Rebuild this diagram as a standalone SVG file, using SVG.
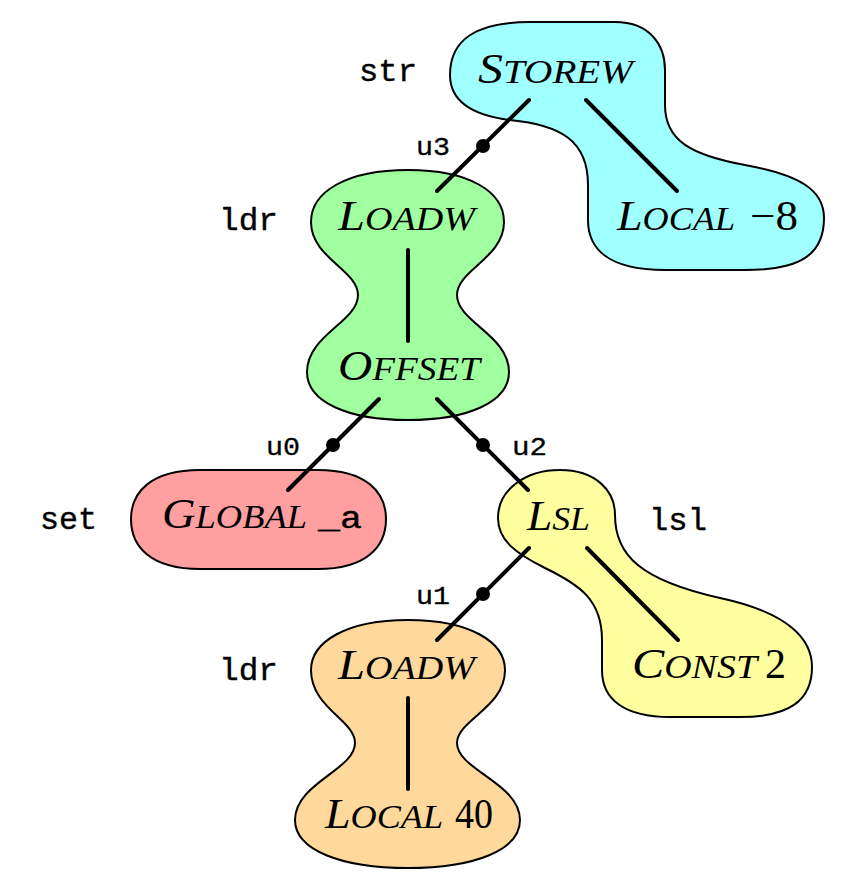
<svg xmlns="http://www.w3.org/2000/svg" width="846" height="890" viewBox="0 0 846 890">
<style>
.blob{stroke:#000;stroke-width:2;stroke-linejoin:round}
.sc{font-family:"Liberation Serif",serif;font-style:italic;font-size:42px;fill:#000}
.scs{font-size:33px}
.num{font-family:"Liberation Serif",serif;font-size:42px;fill:#000}
.tt{font-family:"Liberation Mono",monospace;font-size:31px;fill:#000;stroke:#000;stroke-width:0.4}
.u{font-family:"Liberation Mono",monospace;font-size:25px;fill:#000;stroke:#000;stroke-width:0.3}
.edge{stroke:#000;stroke-width:4;stroke-linecap:round;fill:none}
</style>
<g id="blob-str">
<path class="blob" fill="#a0ffff" d="M 450 75 C 450 40, 475 22, 530 22 L 615 22 C 650 22, 665 45, 665 70 L 665 105 C 665 140, 690 155, 745 165 C 800 175, 824 190, 824 218 C 824 255, 800 270, 745 270 L 665 270 C 610 270, 588 250, 588 220 L 588 185 C 588 140, 560 125, 510 120 C 470 115, 450 100, 450 75 Z"/>
</g>
<g id="blob-ldr1">
<path class="blob" fill="#a0ff9f" d="M 408 170 C 470 170, 504 192, 504 222 C 504 258, 457 270, 457 295 C 457 322, 509 335, 509 372 C 509 402, 468 420, 408 420 C 348 420, 307 402, 307 372 C 307 335, 358 322, 358 295 C 358 270, 311 258, 311 222 C 311 192, 346 170, 408 170 Z"/>
</g>
<g id="blob-set">
<path class="blob" fill="#ff9f9f" d="M 200 470 L 318 470 C 366 470, 386 492, 386 519 C 386 547, 366 569, 318 569 L 200 569 C 151 569, 131 547, 131 519 C 131 492, 151 470, 200 470 Z"/>
</g>
<g id="blob-lsl">
<path class="blob" fill="#ffff9f" d="M 498 518 C 498 490, 525 470, 560 470 C 595 470, 615 490, 615 515 C 615 555, 640 580, 720 598 C 790 613, 812 640, 812 667 C 812 700, 790 717, 740 717 L 670 717 C 625 717, 602 700, 602 670 L 602 640 C 602 600, 580 585, 545 568 C 515 553, 498 540, 498 518 Z"/>
</g>
<g id="blob-ldr2">
<path class="blob" fill="#ffd89b" d="M 408 620 C 470 620, 505 642, 505 670 C 505 708, 457 720, 457 743 C 457 770, 520 783, 520 820 C 520 850, 475 868, 408 868 C 341 868, 295 850, 295 820 C 295 783, 355 770, 355 743 C 355 720, 311 708, 311 670 C 311 642, 346 620, 408 620 Z"/>
</g>
<g id="connectors">
<line class="edge" x1="529" y1="100" x2="437" y2="191"/>
<circle cx="483" cy="146" r="7"/>
<line class="edge" x1="586" y1="100" x2="677" y2="191"/>
<line class="edge" x1="408" y1="250" x2="408" y2="341"/>
<line class="edge" x1="379" y1="399" x2="288" y2="490"/>
<circle cx="333" cy="445" r="7"/>
<line class="edge" x1="437" y1="399" x2="528" y2="490"/>
<circle cx="483" cy="445" r="7"/>
<line class="edge" x1="529" y1="548" x2="437" y2="640"/>
<circle cx="483" cy="594" r="7"/>
<line class="edge" x1="587" y1="548" x2="678" y2="640"/>
<line class="edge" x1="408" y1="698" x2="408" y2="789"/>
</g>
<g id="n-storew">
<text class="sc" x="478" y="83" textLength="155" lengthAdjust="spacingAndGlyphs">S<tspan class="scs">TOREW</tspan></text>
</g>
<g id="n-local8">
<text class="sc" x="617" y="230" textLength="118" lengthAdjust="spacingAndGlyphs">L<tspan class="scs">OCAL</tspan></text>
<text class="num" x="750" y="230" textLength="48" lengthAdjust="spacingAndGlyphs">−8</text>
</g>
<g id="n-loadw1">
<text class="sc" x="338" y="230" textLength="137" lengthAdjust="spacingAndGlyphs">L<tspan class="scs">OADW</tspan></text>
</g>
<g id="n-offset">
<text class="sc" x="338" y="380" textLength="142" lengthAdjust="spacingAndGlyphs">O<tspan class="scs">FFSET</tspan></text>
</g>
<g id="n-global">
<text class="sc" x="162" y="528" textLength="145" lengthAdjust="spacingAndGlyphs">G<tspan class="scs">LOBAL</tspan></text>
<text class="tt" x="318" y="528" textLength="44" lengthAdjust="spacingAndGlyphs">_a</text>
</g>
<g id="n-lsl">
<text class="sc" x="527" y="530" textLength="63" lengthAdjust="spacingAndGlyphs">L<tspan class="scs">SL</tspan></text>
</g>
<g id="n-const">
<text class="sc" x="632" y="678" textLength="125" lengthAdjust="spacingAndGlyphs">C<tspan class="scs">ONST</tspan></text>
<text class="num" x="765" y="678">2</text>
</g>
<g id="n-loadw2">
<text class="sc" x="338" y="679" textLength="137" lengthAdjust="spacingAndGlyphs">L<tspan class="scs">OADW</tspan></text>
</g>
<g id="n-local40">
<text class="sc" x="325" y="828" textLength="118" lengthAdjust="spacingAndGlyphs">L<tspan class="scs">OCAL</tspan></text>
<text class="num" x="455" y="828" textLength="38" lengthAdjust="spacingAndGlyphs">40</text>
</g>
<g id="labels">
<text class="tt" x="359" y="81" textLength="58" lengthAdjust="spacingAndGlyphs">str</text>
<text class="tt" x="219" y="230" textLength="59" lengthAdjust="spacingAndGlyphs">ldr</text>
<text class="tt" x="40" y="529" textLength="57" lengthAdjust="spacingAndGlyphs">set</text>
<text class="tt" x="649" y="530" textLength="58" lengthAdjust="spacingAndGlyphs">lsl</text>
<text class="tt" x="219" y="680" textLength="59" lengthAdjust="spacingAndGlyphs">ldr</text>
<text class="u" x="416" y="155" textLength="34" lengthAdjust="spacingAndGlyphs">u3</text>
<text class="u" x="266" y="455" textLength="34" lengthAdjust="spacingAndGlyphs">u0</text>
<text class="u" x="512" y="455" textLength="35" lengthAdjust="spacingAndGlyphs">u2</text>
<text class="u" x="416" y="604" textLength="34" lengthAdjust="spacingAndGlyphs">u1</text>
</g>
</svg>
